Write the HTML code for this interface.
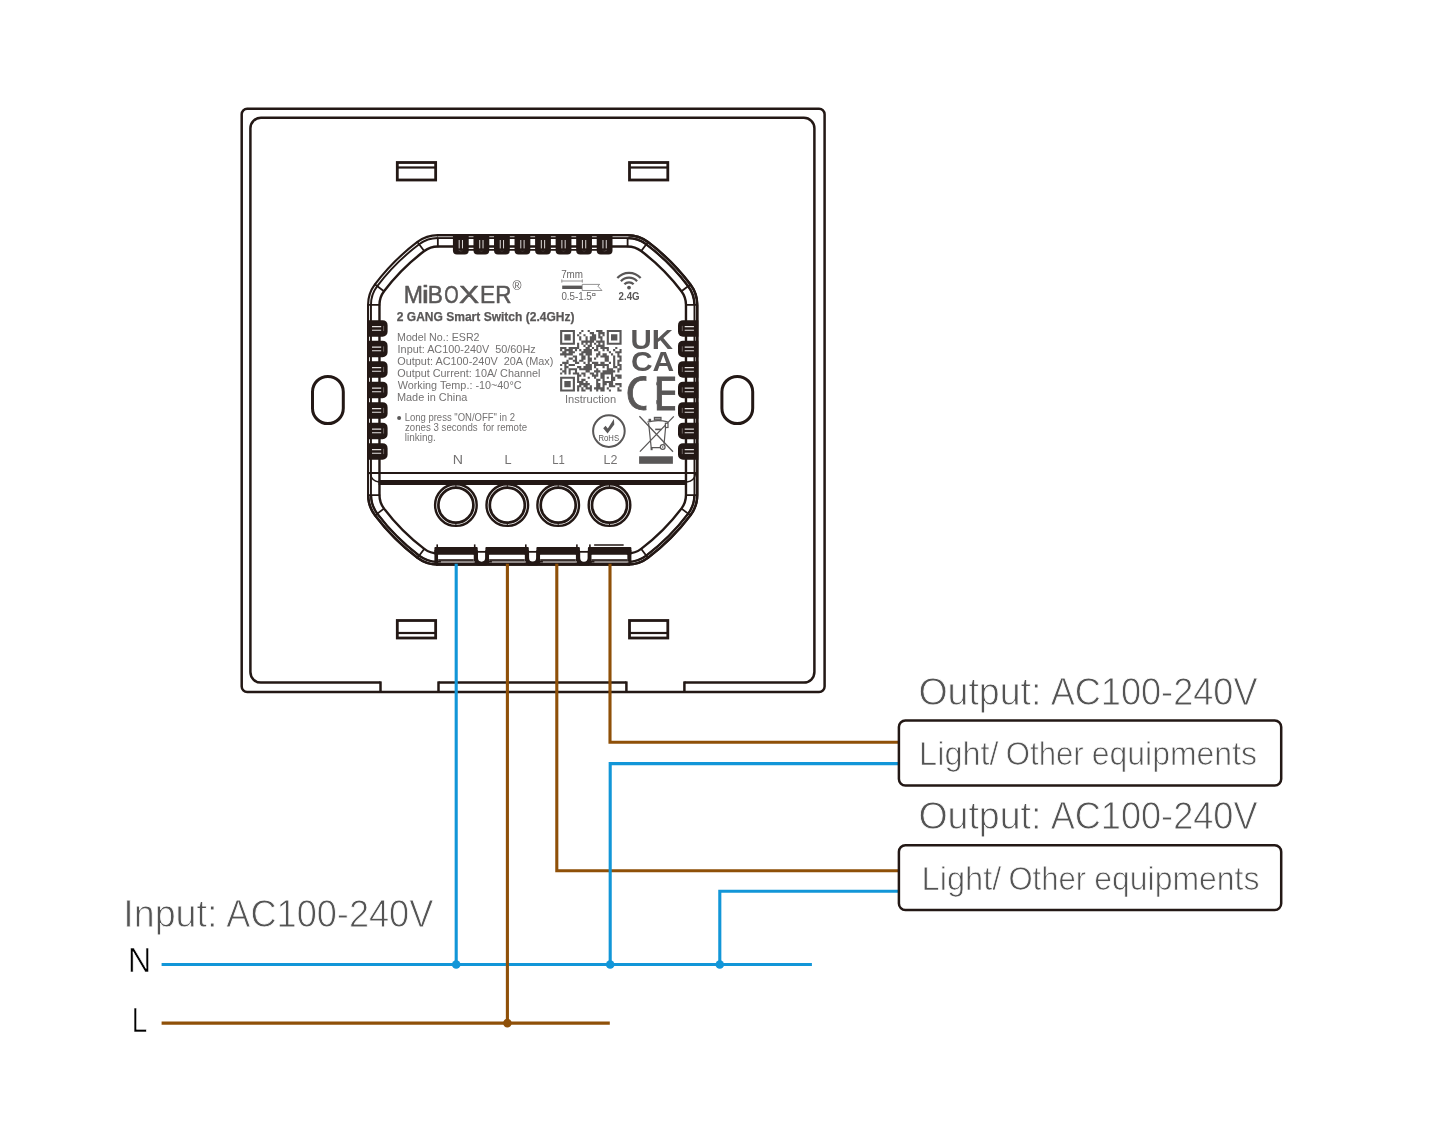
<!DOCTYPE html>
<html lang="en"><head><meta charset="utf-8"><title>2 GANG Smart Switch wiring diagram</title>
<style>html,body{margin:0;padding:0;background:#fff}body{width:1439px;height:1130px;overflow:hidden}svg{display:block}</style>
</head><body>
<svg width="1439" height="1130" viewBox="0 0 1439 1130" style="will-change:transform">
<rect width="1439" height="1130" fill="#fff"/>
<g fill="none" stroke="#231815" stroke-width="2.5" stroke-linejoin="round">
<rect x="241.7" y="108.75" width="582.9" height="583.2" rx="5.5"/>
<path d="M380.5,682.6 L260.9,682.6 A10.5,10.5 0 0 1 250.4,672.1 L250.4,128.2 A10.5,10.5 0 0 1 260.9,117.7 L803.9,117.7 A10.5,10.5 0 0 1 814.4,128.2 L814.4,672.1 A10.5,10.5 0 0 1 803.9,682.6 L684.4,682.6"/>
<path d="M438.5,682.6 L626.4,682.6"/>
<path d="M380.5,681.4 L380.5,691.9"/>
<path d="M438.5,681.4 L438.5,691.9"/>
<path d="M626.4,681.4 L626.4,691.9"/>
<path d="M684.4,681.4 L684.4,691.9"/>
</g>
<rect x="397.30" y="162.50" width="38.35" height="17.50" fill="#fff" stroke="#231815" stroke-width="2.8"/>
<rect x="397.90" y="166.40" width="37.15" height="2.2" fill="#231815"/>
<rect x="629.50" y="162.50" width="38.30" height="17.50" fill="#fff" stroke="#231815" stroke-width="2.8"/>
<rect x="630.10" y="166.40" width="37.10" height="2.2" fill="#231815"/>
<rect x="397.30" y="620.50" width="38.35" height="17.50" fill="#fff" stroke="#231815" stroke-width="2.8"/>
<rect x="397.90" y="631.90" width="37.15" height="2.2" fill="#231815"/>
<rect x="629.50" y="620.50" width="38.30" height="17.50" fill="#fff" stroke="#231815" stroke-width="2.8"/>
<rect x="630.10" y="631.90" width="37.10" height="2.2" fill="#231815"/>
<rect x="312.50" y="376.4" width="30.8" height="47.2" rx="15.4" fill="none" stroke="#231815" stroke-width="3"/>
<rect x="721.90" y="376.4" width="30.8" height="47.2" rx="15.4" fill="none" stroke="#231815" stroke-width="3"/>
<g fill="none" stroke="#231815" stroke-linejoin="round">
<path d="M437.84,235.10L627.60,235.10A33.95,33.95 0 0 1 648.03,241.94A215.95,215.95 0 0 1 690.53,284.44A33.95,33.95 0 0 1 697.37,304.87L697.37,495.03A33.95,33.95 0 0 1 690.53,515.46A215.95,215.95 0 0 1 648.03,557.96A33.95,33.95 0 0 1 627.60,564.80L437.84,564.80A33.95,33.95 0 0 1 417.41,557.96A215.95,215.95 0 0 1 374.91,515.46A33.95,33.95 0 0 1 368.07,495.03L368.07,304.87A33.95,33.95 0 0 1 374.91,284.44A215.95,215.95 0 0 1 417.41,241.94A33.95,33.95 0 0 1 437.84,235.10Z" stroke-width="2.1"/>
<path d="M437.84,238.00L627.60,238.00A31.05,31.05 0 0 1 646.29,244.25A213.05,213.05 0 0 1 688.22,286.18A31.05,31.05 0 0 1 694.47,304.87L694.47,495.03A31.05,31.05 0 0 1 688.22,513.72A213.05,213.05 0 0 1 646.29,555.65A31.05,31.05 0 0 1 627.60,561.90L437.84,561.90A31.05,31.05 0 0 1 419.15,555.65A213.05,213.05 0 0 1 377.22,513.72A31.05,31.05 0 0 1 370.97,495.03L370.97,304.87A31.05,31.05 0 0 1 377.22,286.18A213.05,213.05 0 0 1 419.15,244.25A31.05,31.05 0 0 1 437.84,238.00Z" stroke-width="1.9"/>
<path d="M438,553.40L437.84,553.40A22.55,22.55 0 0 1 424.27,548.86A204.55,204.55 0 0 1 384.01,508.60A22.55,22.55 0 0 1 379.47,495.03L379.47,304.87A22.55,22.55 0 0 1 384.01,291.30A204.55,204.55 0 0 1 424.27,251.04A22.55,22.55 0 0 1 437.84,246.50L627.60,246.50A22.55,22.55 0 0 1 641.17,251.04A204.55,204.55 0 0 1 681.43,291.30A22.55,22.55 0 0 1 685.97,304.87L685.97,495.03A22.55,22.55 0 0 1 681.43,508.60A204.55,204.55 0 0 1 641.17,548.86A22.55,22.55 0 0 1 627.60,553.40L628,553.40" stroke-width="2.4"/>
<path d="M437.84,564.60A33.75,33.75 0 0 1 417.53,557.80A215.75,215.75 0 0 1 375.07,515.34A33.75,33.75 0 0 1 368.27,495.03" stroke-width="2.5"/>
<path d="M437.84,561.75A30.90,30.90 0 0 1 419.25,555.53A212.90,212.90 0 0 1 377.34,513.62A30.90,30.90 0 0 1 371.12,495.03" stroke-width="2.2"/>
<path d="M627.60,564.60A33.75,33.75 0 0 0 647.91,557.80A215.75,215.75 0 0 0 690.37,515.34A33.75,33.75 0 0 0 697.17,495.03" stroke-width="2.5"/>
<path d="M627.60,561.75A30.90,30.90 0 0 0 646.19,555.53A212.90,212.90 0 0 0 688.10,513.62A30.90,30.90 0 0 0 694.32,495.03" stroke-width="2.2"/>
<path d="M627.60,235.30A33.75,33.75 0 0 1 647.91,242.10A215.75,215.75 0 0 1 690.37,284.56A33.75,33.75 0 0 1 697.17,304.87" stroke-width="2.5"/>
<path d="M627.60,238.15A30.90,30.90 0 0 1 646.19,244.37A212.90,212.90 0 0 1 688.10,286.28A30.90,30.90 0 0 1 694.32,304.87" stroke-width="2.2"/>
<path d="M697.17,304.87L697.17,495.03" stroke-width="2.5"/>
<path d="M437.84,234.45L437.84,247.30M417.02,241.42L424.75,251.68M374.39,284.05L384.65,291.78M367.42,304.87L380.27,304.87M627.60,234.45L627.60,247.30M648.42,241.42L640.69,251.68M691.05,284.05L680.79,291.78M698.02,304.87L685.17,304.87M648.42,558.48L640.69,548.22M691.05,515.85L680.79,508.12M698.02,495.03L685.17,495.03M417.02,558.48L424.75,548.22M374.39,515.85L384.65,508.12M367.42,495.03L380.27,495.03" stroke-width="1.8"/>
</g>
<g>
<path d="M437.5,236.6 H628.5" stroke="#a29d9c" stroke-width="1.2" fill="none"/>
<path d="M452.93,235 h15.8 v15.6 a4,4 0 0 1 -4,4 h-7.8 a4,4 0 0 1 -4,-4 z" fill="#231815"/>
<path d="M459.18,240 v8.4 M462.48,240 v8.4" stroke="#e8e4e3" stroke-width="0.95" fill="none"/>
<path d="M458.63,250.3 q2.2,1.5 4.4,0" stroke="#6f6766" stroke-width="0.6" fill="none"/>
<path d="M473.47,235 h15.8 v15.6 a4,4 0 0 1 -4,4 h-7.8 a4,4 0 0 1 -4,-4 z" fill="#231815"/>
<path d="M479.72,240 v8.4 M483.02,240 v8.4" stroke="#e8e4e3" stroke-width="0.95" fill="none"/>
<path d="M479.17,250.3 q2.2,1.5 4.4,0" stroke="#6f6766" stroke-width="0.6" fill="none"/>
<path d="M494.01,235 h15.8 v15.6 a4,4 0 0 1 -4,4 h-7.8 a4,4 0 0 1 -4,-4 z" fill="#231815"/>
<path d="M500.26,240 v8.4 M503.56,240 v8.4" stroke="#e8e4e3" stroke-width="0.95" fill="none"/>
<path d="M499.71,250.3 q2.2,1.5 4.4,0" stroke="#6f6766" stroke-width="0.6" fill="none"/>
<path d="M514.55,235 h15.8 v15.6 a4,4 0 0 1 -4,4 h-7.8 a4,4 0 0 1 -4,-4 z" fill="#231815"/>
<path d="M520.80,240 v8.4 M524.10,240 v8.4" stroke="#e8e4e3" stroke-width="0.95" fill="none"/>
<path d="M520.25,250.3 q2.2,1.5 4.4,0" stroke="#6f6766" stroke-width="0.6" fill="none"/>
<path d="M535.09,235 h15.8 v15.6 a4,4 0 0 1 -4,4 h-7.8 a4,4 0 0 1 -4,-4 z" fill="#231815"/>
<path d="M541.34,240 v8.4 M544.64,240 v8.4" stroke="#e8e4e3" stroke-width="0.95" fill="none"/>
<path d="M540.79,250.3 q2.2,1.5 4.4,0" stroke="#6f6766" stroke-width="0.6" fill="none"/>
<path d="M555.63,235 h15.8 v15.6 a4,4 0 0 1 -4,4 h-7.8 a4,4 0 0 1 -4,-4 z" fill="#231815"/>
<path d="M561.88,240 v8.4 M565.18,240 v8.4" stroke="#e8e4e3" stroke-width="0.95" fill="none"/>
<path d="M561.33,250.3 q2.2,1.5 4.4,0" stroke="#6f6766" stroke-width="0.6" fill="none"/>
<path d="M576.17,235 h15.8 v15.6 a4,4 0 0 1 -4,4 h-7.8 a4,4 0 0 1 -4,-4 z" fill="#231815"/>
<path d="M582.42,240 v8.4 M585.72,240 v8.4" stroke="#e8e4e3" stroke-width="0.95" fill="none"/>
<path d="M581.87,250.3 q2.2,1.5 4.4,0" stroke="#6f6766" stroke-width="0.6" fill="none"/>
<path d="M596.71,235 h15.8 v15.6 a4,4 0 0 1 -4,4 h-7.8 a4,4 0 0 1 -4,-4 z" fill="#231815"/>
<path d="M602.96,240 v8.4 M606.26,240 v8.4" stroke="#e8e4e3" stroke-width="0.95" fill="none"/>
<path d="M602.41,250.3 q2.2,1.5 4.4,0" stroke="#6f6766" stroke-width="0.6" fill="none"/>
<path d="M460.83,249.9 H604.61" stroke="#231815" stroke-width="1.7"/>
</g>
<path d="M367.4,320.15 h15.20 a5,5 0 0 1 5,5 v6.6 a5,5 0 0 1 -5,5 h-15.20 z" fill="#231815"/>
<path d="M372,326.65 h9.2 M372,330.25 h9.2" stroke="#e8e4e3" stroke-width="1.1" fill="none"/>
<path d="M383.6,325.85 v5.2" stroke="#9a9291" stroke-width="0.6" fill="none"/>
<path d="M367.4,340.65 h15.20 a5,5 0 0 1 5,5 v6.6 a5,5 0 0 1 -5,5 h-15.20 z" fill="#231815"/>
<path d="M372,347.15 h9.2 M372,350.75 h9.2" stroke="#e8e4e3" stroke-width="1.1" fill="none"/>
<path d="M383.6,346.35 v5.2" stroke="#9a9291" stroke-width="0.6" fill="none"/>
<path d="M367.4,361.15 h15.20 a5,5 0 0 1 5,5 v6.6 a5,5 0 0 1 -5,5 h-15.20 z" fill="#231815"/>
<path d="M372,367.65 h9.2 M372,371.25 h9.2" stroke="#e8e4e3" stroke-width="1.1" fill="none"/>
<path d="M383.6,366.85 v5.2" stroke="#9a9291" stroke-width="0.6" fill="none"/>
<path d="M367.4,381.65 h15.20 a5,5 0 0 1 5,5 v6.6 a5,5 0 0 1 -5,5 h-15.20 z" fill="#231815"/>
<path d="M372,388.15 h9.2 M372,391.75 h9.2" stroke="#e8e4e3" stroke-width="1.1" fill="none"/>
<path d="M383.6,387.35 v5.2" stroke="#9a9291" stroke-width="0.6" fill="none"/>
<path d="M367.4,402.15 h15.20 a5,5 0 0 1 5,5 v6.6 a5,5 0 0 1 -5,5 h-15.20 z" fill="#231815"/>
<path d="M372,408.65 h9.2 M372,412.25 h9.2" stroke="#e8e4e3" stroke-width="1.1" fill="none"/>
<path d="M383.6,407.85 v5.2" stroke="#9a9291" stroke-width="0.6" fill="none"/>
<path d="M367.4,422.65 h15.20 a5,5 0 0 1 5,5 v6.6 a5,5 0 0 1 -5,5 h-15.20 z" fill="#231815"/>
<path d="M372,429.15 h9.2 M372,432.75 h9.2" stroke="#e8e4e3" stroke-width="1.1" fill="none"/>
<path d="M383.6,428.35 v5.2" stroke="#9a9291" stroke-width="0.6" fill="none"/>
<path d="M367.4,443.15 h15.20 a5,5 0 0 1 5,5 v6.6 a5,5 0 0 1 -5,5 h-15.20 z" fill="#231815"/>
<path d="M372,449.65 h9.2 M372,453.25 h9.2" stroke="#e8e4e3" stroke-width="1.1" fill="none"/>
<path d="M383.6,448.85 v5.2" stroke="#9a9291" stroke-width="0.6" fill="none"/>
<path d="M698.3,320.15 h-15.30 a5,5 0 0 0 -5,5 v6.6 a5,5 0 0 0 5,5 h15.30 z" fill="#231815"/>
<path d="M684.7,326.65 h9.2 M684.7,330.25 h9.2" stroke="#e8e4e3" stroke-width="1.1" fill="none"/>
<path d="M682.3,325.85 v5.2" stroke="#9a9291" stroke-width="0.6" fill="none"/>
<path d="M698.3,340.65 h-15.30 a5,5 0 0 0 -5,5 v6.6 a5,5 0 0 0 5,5 h15.30 z" fill="#231815"/>
<path d="M684.7,347.15 h9.2 M684.7,350.75 h9.2" stroke="#e8e4e3" stroke-width="1.1" fill="none"/>
<path d="M682.3,346.35 v5.2" stroke="#9a9291" stroke-width="0.6" fill="none"/>
<path d="M698.3,361.15 h-15.30 a5,5 0 0 0 -5,5 v6.6 a5,5 0 0 0 5,5 h15.30 z" fill="#231815"/>
<path d="M684.7,367.65 h9.2 M684.7,371.25 h9.2" stroke="#e8e4e3" stroke-width="1.1" fill="none"/>
<path d="M682.3,366.85 v5.2" stroke="#9a9291" stroke-width="0.6" fill="none"/>
<path d="M698.3,381.65 h-15.30 a5,5 0 0 0 -5,5 v6.6 a5,5 0 0 0 5,5 h15.30 z" fill="#231815"/>
<path d="M684.7,388.15 h9.2 M684.7,391.75 h9.2" stroke="#e8e4e3" stroke-width="1.1" fill="none"/>
<path d="M682.3,387.35 v5.2" stroke="#9a9291" stroke-width="0.6" fill="none"/>
<path d="M698.3,402.15 h-15.30 a5,5 0 0 0 -5,5 v6.6 a5,5 0 0 0 5,5 h15.30 z" fill="#231815"/>
<path d="M684.7,408.65 h9.2 M684.7,412.25 h9.2" stroke="#e8e4e3" stroke-width="1.1" fill="none"/>
<path d="M682.3,407.85 v5.2" stroke="#9a9291" stroke-width="0.6" fill="none"/>
<path d="M698.3,422.65 h-15.30 a5,5 0 0 0 -5,5 v6.6 a5,5 0 0 0 5,5 h15.30 z" fill="#231815"/>
<path d="M684.7,429.15 h9.2 M684.7,432.75 h9.2" stroke="#e8e4e3" stroke-width="1.1" fill="none"/>
<path d="M682.3,428.35 v5.2" stroke="#9a9291" stroke-width="0.6" fill="none"/>
<path d="M698.3,443.15 h-15.30 a5,5 0 0 0 -5,5 v6.6 a5,5 0 0 0 5,5 h15.30 z" fill="#231815"/>
<path d="M684.7,449.65 h9.2 M684.7,453.25 h9.2" stroke="#e8e4e3" stroke-width="1.1" fill="none"/>
<path d="M682.3,448.85 v5.2" stroke="#9a9291" stroke-width="0.6" fill="none"/>
<path d="M368.5,473 H697" stroke="#231815" stroke-width="2.1" fill="none"/>
<path d="M378.6,482.5 H686.9" stroke="#231815" stroke-width="5" fill="none"/>
<path d="M370.5,474 Q371.5,481 379,482" stroke="#231815" stroke-width="1.6" fill="none"/>
<path d="M695.4,474 Q694.4,481 687,482" stroke="#231815" stroke-width="1.6" fill="none"/>
<circle cx="455.9" cy="505.1" r="20.8" fill="#fff" stroke="#231815" stroke-width="2.4"/>
<circle cx="455.9" cy="505.1" r="17.5" fill="none" stroke="#231815" stroke-width="2.7"/>
<path d="M455.9,484.5 v3 M455.9,522.8 v3" stroke="#231815" stroke-width="1" fill="none"/>
<circle cx="507.3" cy="505.1" r="20.8" fill="#fff" stroke="#231815" stroke-width="2.4"/>
<circle cx="507.3" cy="505.1" r="17.5" fill="none" stroke="#231815" stroke-width="2.7"/>
<path d="M507.3,484.5 v3 M507.3,522.8 v3" stroke="#231815" stroke-width="1" fill="none"/>
<circle cx="558.2" cy="505.1" r="20.8" fill="#fff" stroke="#231815" stroke-width="2.4"/>
<circle cx="558.2" cy="505.1" r="17.5" fill="none" stroke="#231815" stroke-width="2.7"/>
<path d="M558.2,484.5 v3 M558.2,522.8 v3" stroke="#231815" stroke-width="1" fill="none"/>
<circle cx="609.5" cy="505.1" r="20.8" fill="#fff" stroke="#231815" stroke-width="2.4"/>
<circle cx="609.5" cy="505.1" r="17.5" fill="none" stroke="#231815" stroke-width="2.7"/>
<path d="M609.5,484.5 v3 M609.5,522.8 v3" stroke="#231815" stroke-width="1" fill="none"/>
<path d="M436,564.4 H630" stroke="#231815" stroke-width="2.9" fill="none"/>
<path d="M436,551.7 H630" stroke="#231815" stroke-width="1.5" fill="none"/>
<rect x="434.4" y="546.9" width="43.30" height="7.9" rx="1" fill="#231815"/>
<rect x="434.4" y="550" width="3.8" height="15" fill="#231815"/>
<rect x="473.50" y="550" width="4.2" height="15" fill="#231815"/>
<rect x="438.20" y="555" width="35.30" height="4.2" fill="#fff"/>
<rect x="438.20" y="559.2" width="35.30" height="1.7" fill="#231815"/>
<rect x="440.90" y="561.3" width="33.80" height="1.3" fill="#b9b4b3"/>
<rect x="436.40" y="544.4" width="1.6" height="3" fill="#231815"/>
<rect x="473.90" y="544.4" width="1.6" height="3" fill="#231815"/>
<rect x="485.4" y="546.9" width="43.40" height="7.9" rx="1" fill="#231815"/>
<rect x="485.4" y="550" width="3.8" height="15" fill="#231815"/>
<rect x="524.60" y="550" width="4.2" height="15" fill="#231815"/>
<rect x="489.20" y="555" width="35.40" height="4.2" fill="#fff"/>
<rect x="489.20" y="559.2" width="35.40" height="1.7" fill="#231815"/>
<rect x="491.90" y="561.3" width="33.90" height="1.3" fill="#b9b4b3"/>
<rect x="525.00" y="544.4" width="1.6" height="3" fill="#231815"/>
<rect x="536.4" y="546.9" width="43.50" height="7.9" rx="1" fill="#231815"/>
<rect x="536.4" y="550" width="3.8" height="15" fill="#231815"/>
<rect x="575.70" y="550" width="4.2" height="15" fill="#231815"/>
<rect x="540.20" y="555" width="35.50" height="4.2" fill="#fff"/>
<rect x="540.20" y="559.2" width="35.50" height="1.7" fill="#231815"/>
<rect x="542.90" y="561.3" width="34.00" height="1.3" fill="#b9b4b3"/>
<rect x="576.10" y="544.4" width="1.6" height="3" fill="#231815"/>
<rect x="587.9" y="546.9" width="43.50" height="7.9" rx="1" fill="#231815"/>
<rect x="587.9" y="550" width="3.8" height="15" fill="#231815"/>
<rect x="627.20" y="550" width="4.2" height="15" fill="#231815"/>
<rect x="591.70" y="555" width="35.50" height="4.2" fill="#fff"/>
<rect x="591.70" y="559.2" width="35.50" height="1.7" fill="#231815"/>
<rect x="594.40" y="561.3" width="34.00" height="1.3" fill="#b9b4b3"/>
<rect x="589.10" y="544.4" width="1.6" height="3" fill="#231815"/>
<rect x="593.90" y="544.2" width="30" height="1.6" rx="0.8" fill="#231815"/>
<rect x="476.7" y="551" width="9.70" height="14.5" fill="#231815"/>
<path d="M478.0,552.5 v5.6 a3.55,3.55 0 0 0 7.10,0 v-5.6 z" fill="#fff"/>
<path d="M477.2,551.7 H485.9" stroke="#231815" stroke-width="1.5" fill="none"/>
<rect x="527.8" y="551" width="9.60" height="14.5" fill="#231815"/>
<path d="M529.0999999999999,552.5 v5.6 a3.50,3.50 0 0 0 7.00,0 v-5.6 z" fill="#fff"/>
<path d="M528.3,551.7 H536.9" stroke="#231815" stroke-width="1.5" fill="none"/>
<rect x="578.9" y="551" width="10.00" height="14.5" fill="#231815"/>
<path d="M580.1999999999999,552.5 v5.6 a3.70,3.70 0 0 0 7.40,0 v-5.6 z" fill="#fff"/>
<path d="M579.4,551.7 H588.4" stroke="#231815" stroke-width="1.5" fill="none"/>
<text y="303.00" font-family="'Liberation Sans',sans-serif" font-size="23.77" fill="#595757" stroke="#595757" stroke-width="0.5" stroke-linejoin="round" xml:space="preserve"><tspan x="403.86" textLength="19.22" lengthAdjust="spacingAndGlyphs">M</tspan><tspan x="421.67" textLength="7.29" lengthAdjust="spacingAndGlyphs">i</tspan><tspan x="427.83" textLength="15.11" lengthAdjust="spacingAndGlyphs">B</tspan><tspan x="444.24" textLength="14.44" lengthAdjust="spacingAndGlyphs">O</tspan><tspan x="458.93" textLength="20.12" lengthAdjust="spacingAndGlyphs">X</tspan><tspan x="480.12" textLength="15.16" lengthAdjust="spacingAndGlyphs">E</tspan><tspan x="495.17" textLength="16.22" lengthAdjust="spacingAndGlyphs">R</tspan></text>
<text x="512.5" y="289.8" font-family="'Liberation Sans',sans-serif" font-size="12.2" fill="#595757">®</text>
<text y="321.00" font-family="'Liberation Sans',sans-serif" font-size="12.61" font-weight="bold" fill="#595757" stroke="#595757" stroke-width="0.25" stroke-linejoin="round" xml:space="preserve"><tspan x="396.81" textLength="177.71" lengthAdjust="spacingAndGlyphs">2 GANG Smart Switch (2.4GHz)</tspan></text>
<text y="341.00" font-family="'Liberation Sans',sans-serif" font-size="11.01" fill="#747272" xml:space="preserve"><tspan x="397.02" textLength="82.53" lengthAdjust="spacingAndGlyphs">Model No.: ESR2</tspan></text>
<text y="353.00" font-family="'Liberation Sans',sans-serif" font-size="11.01" fill="#747272" xml:space="preserve"><tspan x="397.60" textLength="138.05" lengthAdjust="spacingAndGlyphs">Input: AC100-240V  50/60Hz</tspan></text>
<text y="365.00" font-family="'Liberation Sans',sans-serif" font-size="11.01" fill="#747272" xml:space="preserve"><tspan x="397.29" textLength="156.04" lengthAdjust="spacingAndGlyphs">Output: AC100-240V  20A (Max)</tspan></text>
<text y="377.00" font-family="'Liberation Sans',sans-serif" font-size="11.01" fill="#747272" xml:space="preserve"><tspan x="397.34" textLength="143.07" lengthAdjust="spacingAndGlyphs">Output Current: 10A/ Channel</tspan></text>
<text y="389.00" font-family="'Liberation Sans',sans-serif" font-size="11.01" fill="#747272" xml:space="preserve"><tspan x="397.66" textLength="123.87" lengthAdjust="spacingAndGlyphs">Working Temp.: -10~40°C</tspan></text>
<text y="401.00" font-family="'Liberation Sans',sans-serif" font-size="11.01" fill="#747272" xml:space="preserve"><tspan x="396.92" textLength="70.46" lengthAdjust="spacingAndGlyphs">Made in China</tspan></text>
<circle cx="399.1" cy="418" r="2" fill="#595757"/>
<text y="421.00" font-family="'Liberation Sans',sans-serif" font-size="10.14" fill="#747272" xml:space="preserve"><tspan x="404.63" textLength="110.33" lengthAdjust="spacingAndGlyphs">Long press &quot;ON/OFF&quot; in 2</tspan></text>
<text y="431.00" font-family="'Liberation Sans',sans-serif" font-size="10.14" fill="#747272" xml:space="preserve"><tspan x="405.01" textLength="122.07" lengthAdjust="spacingAndGlyphs">zones 3 seconds  for remote</tspan></text>
<text y="441.00" font-family="'Liberation Sans',sans-serif" font-size="10.14" fill="#747272" xml:space="preserve"><tspan x="404.78" textLength="30.97" lengthAdjust="spacingAndGlyphs">linking.</tspan></text>
<text y="464.00" font-family="'Liberation Sans',sans-serif" font-size="12.03" fill="#747272" xml:space="preserve"><tspan x="452.67" textLength="10.24" lengthAdjust="spacingAndGlyphs">N</tspan></text>
<text y="464.00" font-family="'Liberation Sans',sans-serif" font-size="12.03" fill="#747272" xml:space="preserve"><tspan x="504.44" textLength="7.07" lengthAdjust="spacingAndGlyphs">L</tspan></text>
<text y="464.00" font-family="'Liberation Sans',sans-serif" font-size="12.17" fill="#747272" xml:space="preserve"><tspan x="552.28" textLength="12.58" lengthAdjust="spacingAndGlyphs">L1</tspan></text>
<text y="464.00" font-family="'Liberation Sans',sans-serif" font-size="12.17" fill="#747272" xml:space="preserve"><tspan x="603.54" textLength="13.90" lengthAdjust="spacingAndGlyphs">L2</tspan></text>
<text y="278.00" font-family="'Liberation Sans',sans-serif" font-size="10.00" fill="#686666" xml:space="preserve"><tspan x="561.14" textLength="21.91" lengthAdjust="spacingAndGlyphs">7mm</tspan></text>
<path d="M561.8,281 H582.3 M561.8,279.4 v3.2 M582.3,279.4 v3.2" stroke="#8a8888" stroke-width="0.9" fill="none"/>
<rect x="562.2" y="285.6" width="20" height="3.4" fill="#595757"/>
<path d="M582.2,284.4 H599.7 L597.8,286.1 L602,290.5 H582.2 Z" fill="#fff" stroke="#7a7878" stroke-width="0.8"/>
<text y="300.00" font-family="'Liberation Sans',sans-serif" font-size="10.00" fill="#686666" xml:space="preserve"><tspan x="561.40" textLength="30.42" lengthAdjust="spacingAndGlyphs">0.5-1.5</tspan></text>
<text x="591.9" y="296" font-family="'DejaVu Sans',sans-serif" font-size="5.4" fill="#595757" stroke="#595757" stroke-width="0.25">▫</text>
<path d="M624.39,284.35 A6.2,6.2 0 0 1 633.61,284.35" stroke="#595757" stroke-width="2.2" fill="none"/>
<path d="M620.90,281.21 A10.9,10.9 0 0 1 637.10,281.21" stroke="#595757" stroke-width="2.2" fill="none"/>
<path d="M617.33,277.99 A15.7,15.7 0 0 1 640.67,277.99" stroke="#595757" stroke-width="2.2" fill="none"/>
<circle cx="629.0" cy="287.6" r="1.9" fill="#595757"/>
<text y="300.00" font-family="'Liberation Sans',sans-serif" font-size="10.00" font-weight="bold" fill="#595757" xml:space="preserve"><tspan x="618.57" textLength="21.04" lengthAdjust="spacingAndGlyphs">2.4G</tspan></text>
<path d="M560.10,330.00h14.84v2.12h-14.84zM581.31,330.00h2.12v2.12h-2.12zM587.67,330.00h2.12v2.12h-2.12zM596.15,330.00h6.36v2.12h-6.36zM606.76,330.00h14.84v2.12h-14.84zM560.10,332.12h2.12v2.12h-2.12zM572.82,332.12h2.12v2.12h-2.12zM579.19,332.12h2.12v2.12h-2.12zM589.79,332.12h4.24v2.12h-4.24zM598.27,332.12h6.36v2.12h-6.36zM606.76,332.12h2.12v2.12h-2.12zM619.48,332.12h2.12v2.12h-2.12zM560.10,334.24h2.12v2.12h-2.12zM564.34,334.24h6.36v2.12h-6.36zM572.82,334.24h2.12v2.12h-2.12zM577.07,334.24h2.12v2.12h-2.12zM583.43,334.24h2.12v2.12h-2.12zM591.91,334.24h4.24v2.12h-4.24zM598.27,334.24h2.12v2.12h-2.12zM602.51,334.24h2.12v2.12h-2.12zM606.76,334.24h2.12v2.12h-2.12zM611.00,334.24h6.36v2.12h-6.36zM619.48,334.24h2.12v2.12h-2.12zM560.10,336.36h2.12v2.12h-2.12zM564.34,336.36h6.36v2.12h-6.36zM572.82,336.36h2.12v2.12h-2.12zM579.19,336.36h2.12v2.12h-2.12zM585.55,336.36h2.12v2.12h-2.12zM589.79,336.36h6.36v2.12h-6.36zM598.27,336.36h4.24v2.12h-4.24zM606.76,336.36h2.12v2.12h-2.12zM611.00,336.36h6.36v2.12h-6.36zM619.48,336.36h2.12v2.12h-2.12zM560.10,338.48h2.12v2.12h-2.12zM564.34,338.48h6.36v2.12h-6.36zM572.82,338.48h2.12v2.12h-2.12zM579.19,338.48h2.12v2.12h-2.12zM585.55,338.48h2.12v2.12h-2.12zM589.79,338.48h6.36v2.12h-6.36zM600.39,338.48h2.12v2.12h-2.12zM606.76,338.48h2.12v2.12h-2.12zM611.00,338.48h6.36v2.12h-6.36zM619.48,338.48h2.12v2.12h-2.12zM560.10,340.60h2.12v2.12h-2.12zM572.82,340.60h2.12v2.12h-2.12zM581.31,340.60h12.72v2.12h-12.72zM596.15,340.60h8.48v2.12h-8.48zM606.76,340.60h2.12v2.12h-2.12zM619.48,340.60h2.12v2.12h-2.12zM560.10,342.72h14.84v2.12h-14.84zM577.07,342.72h2.12v2.12h-2.12zM581.31,342.72h2.12v2.12h-2.12zM585.55,342.72h2.12v2.12h-2.12zM589.79,342.72h2.12v2.12h-2.12zM594.03,342.72h2.12v2.12h-2.12zM598.27,342.72h2.12v2.12h-2.12zM602.51,342.72h2.12v2.12h-2.12zM606.76,342.72h14.84v2.12h-14.84zM577.07,344.84h2.12v2.12h-2.12zM583.43,344.84h2.12v2.12h-2.12zM587.67,344.84h4.24v2.12h-4.24zM596.15,344.84h8.48v2.12h-8.48zM560.10,346.97h6.36v2.12h-6.36zM568.58,346.97h10.60v2.12h-10.60zM585.55,346.97h4.24v2.12h-4.24zM591.91,346.97h2.12v2.12h-2.12zM596.15,346.97h2.12v2.12h-2.12zM600.39,346.97h8.48v2.12h-8.48zM615.24,346.97h2.12v2.12h-2.12zM560.10,349.09h2.12v2.12h-2.12zM564.34,349.09h8.48v2.12h-8.48zM574.94,349.09h2.12v2.12h-2.12zM579.19,349.09h2.12v2.12h-2.12zM583.43,349.09h8.48v2.12h-8.48zM594.03,349.09h4.24v2.12h-4.24zM602.51,349.09h2.12v2.12h-2.12zM606.76,349.09h2.12v2.12h-2.12zM613.12,349.09h2.12v2.12h-2.12zM619.48,349.09h2.12v2.12h-2.12zM562.22,351.21h4.24v2.12h-4.24zM568.58,351.21h6.36v2.12h-6.36zM581.31,351.21h10.60v2.12h-10.60zM598.27,351.21h2.12v2.12h-2.12zM608.88,351.21h2.12v2.12h-2.12zM615.24,351.21h6.36v2.12h-6.36zM560.10,353.33h12.72v2.12h-12.72zM579.19,353.33h4.24v2.12h-4.24zM585.55,353.33h6.36v2.12h-6.36zM596.15,353.33h4.24v2.12h-4.24zM602.51,353.33h4.24v2.12h-4.24zM611.00,353.33h2.12v2.12h-2.12zM617.36,353.33h2.12v2.12h-2.12zM564.34,355.45h2.12v2.12h-2.12zM572.82,355.45h4.24v2.12h-4.24zM581.31,355.45h4.24v2.12h-4.24zM587.67,355.45h2.12v2.12h-2.12zM596.15,355.45h2.12v2.12h-2.12zM600.39,355.45h8.48v2.12h-8.48zM613.12,355.45h2.12v2.12h-2.12zM617.36,355.45h4.24v2.12h-4.24zM568.58,357.57h4.24v2.12h-4.24zM574.94,357.57h2.12v2.12h-2.12zM581.31,357.57h4.24v2.12h-4.24zM587.67,357.57h4.24v2.12h-4.24zM594.03,357.57h2.12v2.12h-2.12zM604.63,357.57h4.24v2.12h-4.24zM613.12,357.57h2.12v2.12h-2.12zM619.48,357.57h2.12v2.12h-2.12zM566.46,359.69h2.12v2.12h-2.12zM572.82,359.69h4.24v2.12h-4.24zM579.19,359.69h4.24v2.12h-4.24zM587.67,359.69h4.24v2.12h-4.24zM604.63,359.69h4.24v2.12h-4.24zM613.12,359.69h2.12v2.12h-2.12zM617.36,359.69h4.24v2.12h-4.24zM562.22,361.81h6.36v2.12h-6.36zM574.94,361.81h4.24v2.12h-4.24zM583.43,361.81h2.12v2.12h-2.12zM587.67,361.81h2.12v2.12h-2.12zM591.91,361.81h6.36v2.12h-6.36zM600.39,361.81h4.24v2.12h-4.24zM608.88,361.81h2.12v2.12h-2.12zM613.12,361.81h2.12v2.12h-2.12zM617.36,361.81h2.12v2.12h-2.12zM560.10,363.93h2.12v2.12h-2.12zM564.34,363.93h2.12v2.12h-2.12zM568.58,363.93h6.36v2.12h-6.36zM585.55,363.93h6.36v2.12h-6.36zM594.03,363.93h14.84v2.12h-14.84zM613.12,363.93h2.12v2.12h-2.12zM617.36,363.93h4.24v2.12h-4.24zM564.34,366.05h4.24v2.12h-4.24zM577.07,366.05h4.24v2.12h-4.24zM583.43,366.05h8.48v2.12h-8.48zM594.03,366.05h2.12v2.12h-2.12zM602.51,366.05h2.12v2.12h-2.12zM606.76,366.05h2.12v2.12h-2.12zM613.12,366.05h4.24v2.12h-4.24zM619.48,366.05h2.12v2.12h-2.12zM560.10,368.17h2.12v2.12h-2.12zM564.34,368.17h2.12v2.12h-2.12zM568.58,368.17h8.48v2.12h-8.48zM579.19,368.17h12.72v2.12h-12.72zM596.15,368.17h2.12v2.12h-2.12zM606.76,368.17h6.36v2.12h-6.36zM617.36,368.17h4.24v2.12h-4.24zM562.22,370.29h4.24v2.12h-4.24zM568.58,370.29h2.12v2.12h-2.12zM574.94,370.29h2.12v2.12h-2.12zM585.55,370.29h4.24v2.12h-4.24zM594.03,370.29h6.36v2.12h-6.36zM602.51,370.29h12.72v2.12h-12.72zM617.36,370.29h2.12v2.12h-2.12zM560.10,372.41h2.12v2.12h-2.12zM564.34,372.41h2.12v2.12h-2.12zM568.58,372.41h2.12v2.12h-2.12zM572.82,372.41h6.36v2.12h-6.36zM581.31,372.41h4.24v2.12h-4.24zM589.79,372.41h4.24v2.12h-4.24zM596.15,372.41h2.12v2.12h-2.12zM600.39,372.41h12.72v2.12h-12.72zM577.07,374.53h4.24v2.12h-4.24zM583.43,374.53h2.12v2.12h-2.12zM591.91,374.53h6.36v2.12h-6.36zM600.39,374.53h4.24v2.12h-4.24zM611.00,374.53h2.12v2.12h-2.12zM615.24,374.53h6.36v2.12h-6.36zM560.10,376.66h14.84v2.12h-14.84zM577.07,376.66h2.12v2.12h-2.12zM587.67,376.66h2.12v2.12h-2.12zM594.03,376.66h2.12v2.12h-2.12zM600.39,376.66h4.24v2.12h-4.24zM606.76,376.66h2.12v2.12h-2.12zM611.00,376.66h4.24v2.12h-4.24zM617.36,376.66h4.24v2.12h-4.24zM560.10,378.78h2.12v2.12h-2.12zM572.82,378.78h2.12v2.12h-2.12zM577.07,378.78h2.12v2.12h-2.12zM581.31,378.78h4.24v2.12h-4.24zM596.15,378.78h4.24v2.12h-4.24zM602.51,378.78h2.12v2.12h-2.12zM611.00,378.78h4.24v2.12h-4.24zM560.10,380.90h2.12v2.12h-2.12zM564.34,380.90h6.36v2.12h-6.36zM572.82,380.90h2.12v2.12h-2.12zM577.07,380.90h6.36v2.12h-6.36zM585.55,380.90h2.12v2.12h-2.12zM596.15,380.90h2.12v2.12h-2.12zM602.51,380.90h10.60v2.12h-10.60zM560.10,383.02h2.12v2.12h-2.12zM564.34,383.02h6.36v2.12h-6.36zM572.82,383.02h2.12v2.12h-2.12zM579.19,383.02h10.60v2.12h-10.60zM596.15,383.02h4.24v2.12h-4.24zM602.51,383.02h4.24v2.12h-4.24zM608.88,383.02h4.24v2.12h-4.24zM615.24,383.02h6.36v2.12h-6.36zM560.10,385.14h2.12v2.12h-2.12zM564.34,385.14h6.36v2.12h-6.36zM572.82,385.14h2.12v2.12h-2.12zM577.07,385.14h4.24v2.12h-4.24zM583.43,385.14h4.24v2.12h-4.24zM589.79,385.14h2.12v2.12h-2.12zM596.15,385.14h4.24v2.12h-4.24zM602.51,385.14h2.12v2.12h-2.12zM608.88,385.14h6.36v2.12h-6.36zM619.48,385.14h2.12v2.12h-2.12zM560.10,387.26h2.12v2.12h-2.12zM572.82,387.26h2.12v2.12h-2.12zM577.07,387.26h2.12v2.12h-2.12zM581.31,387.26h2.12v2.12h-2.12zM585.55,387.26h6.36v2.12h-6.36zM594.03,387.26h10.60v2.12h-10.60zM606.76,387.26h2.12v2.12h-2.12zM617.36,387.26h2.12v2.12h-2.12zM560.10,389.38h14.84v2.12h-14.84zM577.07,389.38h2.12v2.12h-2.12zM581.31,389.38h4.24v2.12h-4.24zM589.79,389.38h2.12v2.12h-2.12zM596.15,389.38h2.12v2.12h-2.12zM600.39,389.38h4.24v2.12h-4.24zM608.88,389.38h2.12v2.12h-2.12zM617.36,389.38h4.24v2.12h-4.24z" fill="#595757"/>
<text y="403.00" font-family="'Liberation Sans',sans-serif" font-size="11.16" fill="#747272" xml:space="preserve"><tspan x="564.90" textLength="51.29" lengthAdjust="spacingAndGlyphs">Instruction</tspan></text>
<text y="349.00" font-family="'Liberation Sans',sans-serif" font-size="26.96" font-weight="bold" fill="#595757" xml:space="preserve"><tspan x="630.45" textLength="42.54" lengthAdjust="spacingAndGlyphs">UK</tspan></text>
<text y="371.00" font-family="'Liberation Sans',sans-serif" font-size="26.96" font-weight="bold" fill="#595757" xml:space="preserve"><tspan x="630.95" textLength="43.26" lengthAdjust="spacingAndGlyphs">CA</tspan></text>
<clipPath id="cec"><rect x="620" y="370" width="26.4" height="48"/><rect x="656.4" y="370" width="18.7" height="48"/></clipPath>
<text x="625.6 653.2" y="410.0" font-family="'Liberation Sans',sans-serif" font-size="47.2" fill="#595757" stroke="#595757" stroke-width="0.8" clip-path="url(#cec)">CE</text>
<circle cx="608.9" cy="431.1" r="15.8" fill="none" stroke="#595757" stroke-width="2"/>
<path d="M603.2,428.2 L605.6,425.8 L607.8,428.6 L613.9,419.0 L614.3,424.4 L607.6,433.4 Z" fill="#595757"/>
<text y="441.00" font-family="'Liberation Sans',sans-serif" font-size="8.99" fill="#595757" xml:space="preserve"><tspan x="598.46" textLength="20.60" lengthAdjust="spacingAndGlyphs">RoHS</tspan></text>
<g stroke="#595757" fill="none" stroke-width="1.2">
<path d="M639.4,416.2 L673.0,451.8 M673.8,416.4 L639.9,451.6" stroke-width="1.3"/>
<path d="M648.6,423 L651.2,447.6 H660 M666,423 L664,444.6"/>
<path d="M647.4,422.2 Q657,419.2 667.8,421.8" stroke-width="1.3"/>
<rect x="654.4" y="417.4" width="6.6" height="2.6" fill="#9a9898"/>
<rect x="665.4" y="423.2" width="2.6" height="4.3" fill="#fff"/>
<circle cx="662.7" cy="447" r="2.4" fill="#fff"/>
<circle cx="662.7" cy="447" r="0.8" fill="#595757" stroke="none"/>
<rect x="655.2" y="428.6" width="6.2" height="1.6" fill="#595757" stroke="none"/>
<rect x="650.6" y="447.6" width="2" height="2.6" fill="#595757" stroke="none"/>
<rect x="648.5" y="418.8" width="2.6" height="2.6" fill="#595757" stroke="none"/>
</g>
<rect x="639.1" y="456.3" width="33.8" height="7.5" fill="#595757"/>
<g fill="none" stroke-width="3.1" stroke-linejoin="miter">
<path d="M161.6,964.5 H811.9" stroke="#1296d8"/>
<path d="M456.2,563.8 V964.5" stroke="#1296d8"/>
<path d="M556.8,563.8 V870.8 H899" stroke="#8f5008"/>
<path d="M899,763.6 H610.2 V964.5" stroke="#1296d8"/>
<path d="M899,891.3 H719.8 V964.5" stroke="#1296d8"/>
<path d="M610.0,563.8 V742.2 H899" stroke="#8f5008"/>
<path d="M161.6,1023.1 H609.8" stroke="#8f5008"/>
<path d="M507.4,563.8 V1023.1" stroke="#8f5008"/>
</g>
<circle cx="456.2" cy="964.5" r="4.3" fill="#1296d8"/>
<circle cx="610.2" cy="964.5" r="4.3" fill="#1296d8"/>
<circle cx="719.8" cy="964.5" r="4.3" fill="#1296d8"/>
<circle cx="507.4" cy="1023.1" r="4.3" fill="#8f5008"/>
<rect x="898.9" y="720.5" width="382.3" height="65.00" rx="6.5" fill="#fff" stroke="#231815" stroke-width="2.5"/>
<rect x="898.9" y="845.3" width="382.3" height="64.80" rx="6.5" fill="#fff" stroke="#231815" stroke-width="2.5"/>
<text y="705.00" font-family="'Liberation Sans',sans-serif" font-size="38.91" fill="#545454" stroke="#fff" stroke-width="0.85" xml:space="preserve"><tspan x="918.38" textLength="123.03" lengthAdjust="spacingAndGlyphs">Output:</tspan> <tspan x="1050.65" textLength="206.88" lengthAdjust="spacingAndGlyphs">AC100-240V</tspan></text>
<text y="829.00" font-family="'Liberation Sans',sans-serif" font-size="38.91" fill="#545454" stroke="#fff" stroke-width="0.85" xml:space="preserve"><tspan x="918.38" textLength="123.03" lengthAdjust="spacingAndGlyphs">Output:</tspan> <tspan x="1050.65" textLength="206.88" lengthAdjust="spacingAndGlyphs">AC100-240V</tspan></text>
<text y="765.00" font-family="'Liberation Sans',sans-serif" font-size="32.83" fill="#545454" stroke="#fff" stroke-width="0.75" xml:space="preserve"><tspan x="919.12" textLength="79.42" lengthAdjust="spacingAndGlyphs">Light/</tspan> <tspan x="1005.78" textLength="77.93" lengthAdjust="spacingAndGlyphs">Other</tspan> <tspan x="1091.75" textLength="165.28" lengthAdjust="spacingAndGlyphs">equipments</tspan></text>
<text y="890.00" font-family="'Liberation Sans',sans-serif" font-size="32.83" fill="#545454" stroke="#fff" stroke-width="0.75" xml:space="preserve"><tspan x="921.55" textLength="79.82" lengthAdjust="spacingAndGlyphs">Light/</tspan> <tspan x="1008.39" textLength="77.81" lengthAdjust="spacingAndGlyphs">Other</tspan> <tspan x="1094.29" textLength="165.12" lengthAdjust="spacingAndGlyphs">equipments</tspan></text>
<text y="927.00" font-family="'Liberation Sans',sans-serif" font-size="38.48" fill="#545454" stroke="#fff" stroke-width="0.85" xml:space="preserve"><tspan x="123.26" textLength="94.22" lengthAdjust="spacingAndGlyphs">Input:</tspan> <tspan x="226.34" textLength="206.99" lengthAdjust="spacingAndGlyphs">AC100-240V</tspan></text>
<text y="972.00" font-family="'Liberation Sans',sans-serif" font-size="34.20" fill="#000" stroke="#fff" stroke-width="0.6" xml:space="preserve"><tspan x="127.85" textLength="23.65" lengthAdjust="spacingAndGlyphs">N</tspan></text>
<text y="1032.00" font-family="'Liberation Sans',sans-serif" font-size="34.64" fill="#000" stroke="#fff" stroke-width="0.6" xml:space="preserve"><tspan x="131.84" textLength="15.46" lengthAdjust="spacingAndGlyphs">L</tspan></text>
</svg></body></html>
